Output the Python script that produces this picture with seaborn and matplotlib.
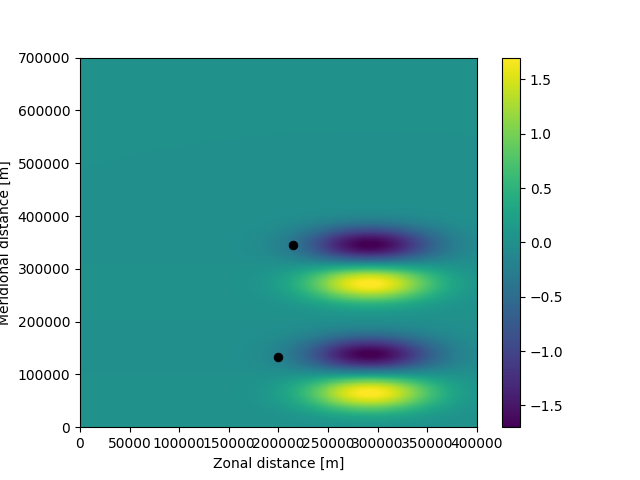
import numpy as np
import pandas as pd
import matplotlib
matplotlib.use("Agg")
import matplotlib.pyplot as plt
import seaborn as sns

# Domain size [m]
x_extent = [0, 400000]
y_extent = [0, 700000]

# Lobes of the field
lobe_x = [292000, 292000, 292000, 292000]
lobe_y = [345000, 273000, 137000, 66000]
lobe_amp = [-1.75, 1.75, -1.75, 1.75]
lobe_sx = 45000
lobe_sy = 25000

# Black marker positions
point_x = [215000, 200000]
point_y = [345000, 133000]

# Colour range
vmin, vmax = -1.7, 1.7


def build_field():
    x = np.linspace(x_extent[0], x_extent[1], 401)
    y = np.linspace(y_extent[0], y_extent[1], 701)
    X, Y = np.meshgrid(x, y)
    field = np.zeros_like(X)
    for xc, yc, a in zip(lobe_x, lobe_y, lobe_amp):
        field += a * np.exp(-0.5 * ((X - xc) / lobe_sx) ** 2 - 0.5 * ((Y - yc) / lobe_sy) ** 2)
    return x, y, field


def main():
    x, y, field = build_field()

    fig, ax = plt.subplots(figsize=(6.4, 4.8), dpi=100)
    mesh = ax.pcolormesh(x, y, field, cmap="viridis", vmin=vmin, vmax=vmax, shading="auto")
    fig.colorbar(mesh, ax=ax)

    points = pd.DataFrame({"x": point_x, "y": point_y})
    sns.scatterplot(data=points, x="x", y="y", color="k", edgecolor="k", s=40, ax=ax, zorder=3)

    ax.set_xlim(x_extent)
    ax.set_ylim(y_extent)
    ax.set_xlabel("Zonal distance [m]")
    ax.set_ylabel("Meridional distance [m]")

    fig.savefig("out.png", dpi=100)


if __name__ == "__main__":
    main()
